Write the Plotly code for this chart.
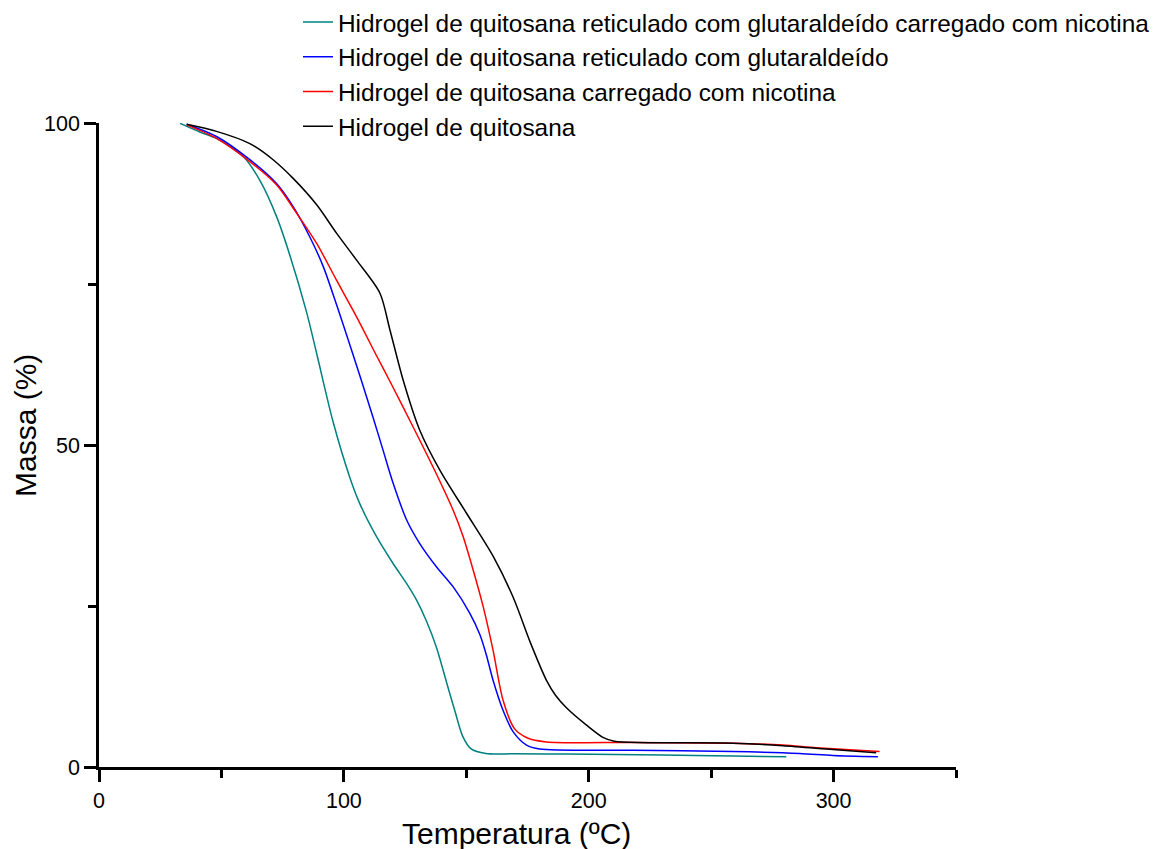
import plotly.graph_objects as go

# ---- data ----
teal_x = [33.1, 41.2, 48.0, 58.9, 65.7, 72.5, 78.0, 84.8, 88.9, 95.6, 102.4, 106.5, 113.3, 120.1,
          125.6, 129.7, 133.8, 137.8, 141.9, 145.5, 148.5, 152.0, 158.0, 170.0, 190.9, 230.0, 258.9, 280.7]
teal_y = [99.95, 98.6, 97.6, 94.8, 91.1, 85.5, 79.4, 70.6, 64.2, 53.6, 45.0, 40.9, 35.8, 31.6,
          28.5, 25.9, 22.6, 18.6, 13.2, 8.5, 4.8, 2.8, 2.1, 2.05, 2.0, 1.85, 1.7, 1.6]

blue_x = [35.8, 48.0, 61.6, 72.5, 79.3, 86.1, 91.6, 97.0, 102.4, 107.0, 112.0, 116.0, 120.1, 125.6,
          131.0, 137.8, 144.6, 151.4, 155.5, 158.2, 160.9, 165.0, 169.1, 174.6, 180.0, 218.1, 258.9, 286.1, 299.7, 318.1]
blue_y = [99.8, 97.9, 94.3, 90.6, 87.0, 82.3, 77.7, 71.8, 65.6, 60.2, 54.2, 49.2, 44.1, 38.4,
          34.7, 31.1, 28.0, 23.9, 20.6, 17.4, 13.5, 8.8, 5.5, 3.4, 2.8, 2.6, 2.4, 2.1, 1.8, 1.6]

red_x = [35.8, 48.0, 61.6, 72.5, 80.7, 88.9, 97.0, 105.2, 113.3, 118.8, 128.3, 137.8, 144.6, 148.7,
         152.8, 156.9, 160.9, 165.0, 169.6, 175.0, 182.7, 218.1, 258.9, 279.3, 292.9, 318.8]
red_y = [99.7, 97.6, 94.0, 90.4, 86.0, 81.3, 75.6, 69.9, 63.9, 59.9, 52.8, 45.5, 39.9, 35.8,
         30.6, 24.9, 18.2, 10.4, 6.0, 4.5, 3.9, 3.8, 3.7, 3.4, 3.0, 2.4]

black_x = [35.8, 48.0, 61.6, 71.1, 79.3, 88.9, 97.0, 105.2, 114.7, 118.8, 124.2, 131.0,
           139.2, 150.1, 161.0, 169.1, 176.3, 182.7, 186.5, 190.9, 199.1, 205.8, 210.5, 258.9, 279.3, 299.7, 317.4]
black_y = [99.8, 98.7, 96.8, 94.3, 91.4, 87.3, 82.9, 78.7, 73.6, 67.9, 60.1, 52.3,
           46.1, 39.4, 32.7, 26.4, 19.2, 13.5, 11.1, 9.2, 6.5, 4.6, 4.0, 3.7, 3.3, 2.7, 2.2]

names = [
    "Hidrogel de quitosana reticulado com glutaraldeído carregado com nicotina",
    "Hidrogel de quitosana reticulado com glutaraldeído",
    "Hidrogel de quitosana carregado com nicotina",
    "Hidrogel de quitosana",
]
colors = ["#008080", "#0000FF", "#FF0000", "#000000"]

x_ticks = [0, 100, 200, 300]
x_minor = [50, 150, 250, 350]
y_ticks = [0, 50, 100]
y_minor = [25, 75]

x_title = "Temperatura (ºC)"
y_title = "Massa (%)"

FONT = "Liberation Sans, Arial, sans-serif"

fig = go.Figure()
for xs, ys, nm, c in zip([teal_x, blue_x, red_x, black_x], [teal_y, blue_y, red_y, black_y], names, colors):
    fig.add_trace(go.Scatter(x=xs, y=ys, name=nm, mode="lines",
                             line=dict(color=c, width=1.5, shape="spline", smoothing=0.8)))

fig.update_layout(
    width=1151, height=841, autosize=False,
    margin=dict(l=91, r=203, t=115, b=82, autoexpand=False),
    paper_bgcolor="white", plot_bgcolor="white",
    font=dict(family=FONT, color="black"),
    showlegend=True,
    legend=dict(x=0.2322, y=1.1915, xanchor="left", yanchor="top",
                font=dict(size=24.4, family=FONT, color="black"),
                bgcolor="rgba(0,0,0,0)", borderwidth=0, tracegroupgap=0),
    annotations=[
        dict(text=x_title, xref="paper", yref="paper", x=0.4866, y=-0.1025,
             xanchor="center", yanchor="middle", showarrow=False,
             font=dict(size=30, family=FONT, color="black")),
        dict(text=y_title, xref="paper", yref="paper", x=-0.0863, y=0.5295,
             xanchor="center", yanchor="middle", showarrow=False, textangle=-90,
             font=dict(size=30, family=FONT, color="black")),
    ],
)
fig.update_xaxes(
    range=[0, 350], showgrid=False, zeroline=False,
    showline=True, linecolor="black", linewidth=2.5,
    ticks="outside", ticklen=12, tickwidth=2.5, tickcolor="black",
    tickvals=x_ticks, ticktext=[str(v) for v in x_ticks],
    tickfont=dict(size=21.5, family=FONT, color="black"),
    minor=dict(tickvals=x_minor, ticks="outside", ticklen=8, tickwidth=2.5,
               tickcolor="black", showgrid=False),
    automargin=False,
)
fig.update_yaxes(
    range=[0, 100], showgrid=False, zeroline=False,
    showline=True, linecolor="black", linewidth=2.5,
    ticks="outside", ticklen=12, tickwidth=2.5, tickcolor="black",
    tickvals=y_ticks, ticktext=[str(v) for v in y_ticks],
    tickfont=dict(size=21.5, family=FONT, color="black"),
    minor=dict(tickvals=y_minor, ticks="outside", ticklen=8, tickwidth=2.5,
               tickcolor="black", showgrid=False),
    automargin=False,
)

fig.write_html("out.html")
